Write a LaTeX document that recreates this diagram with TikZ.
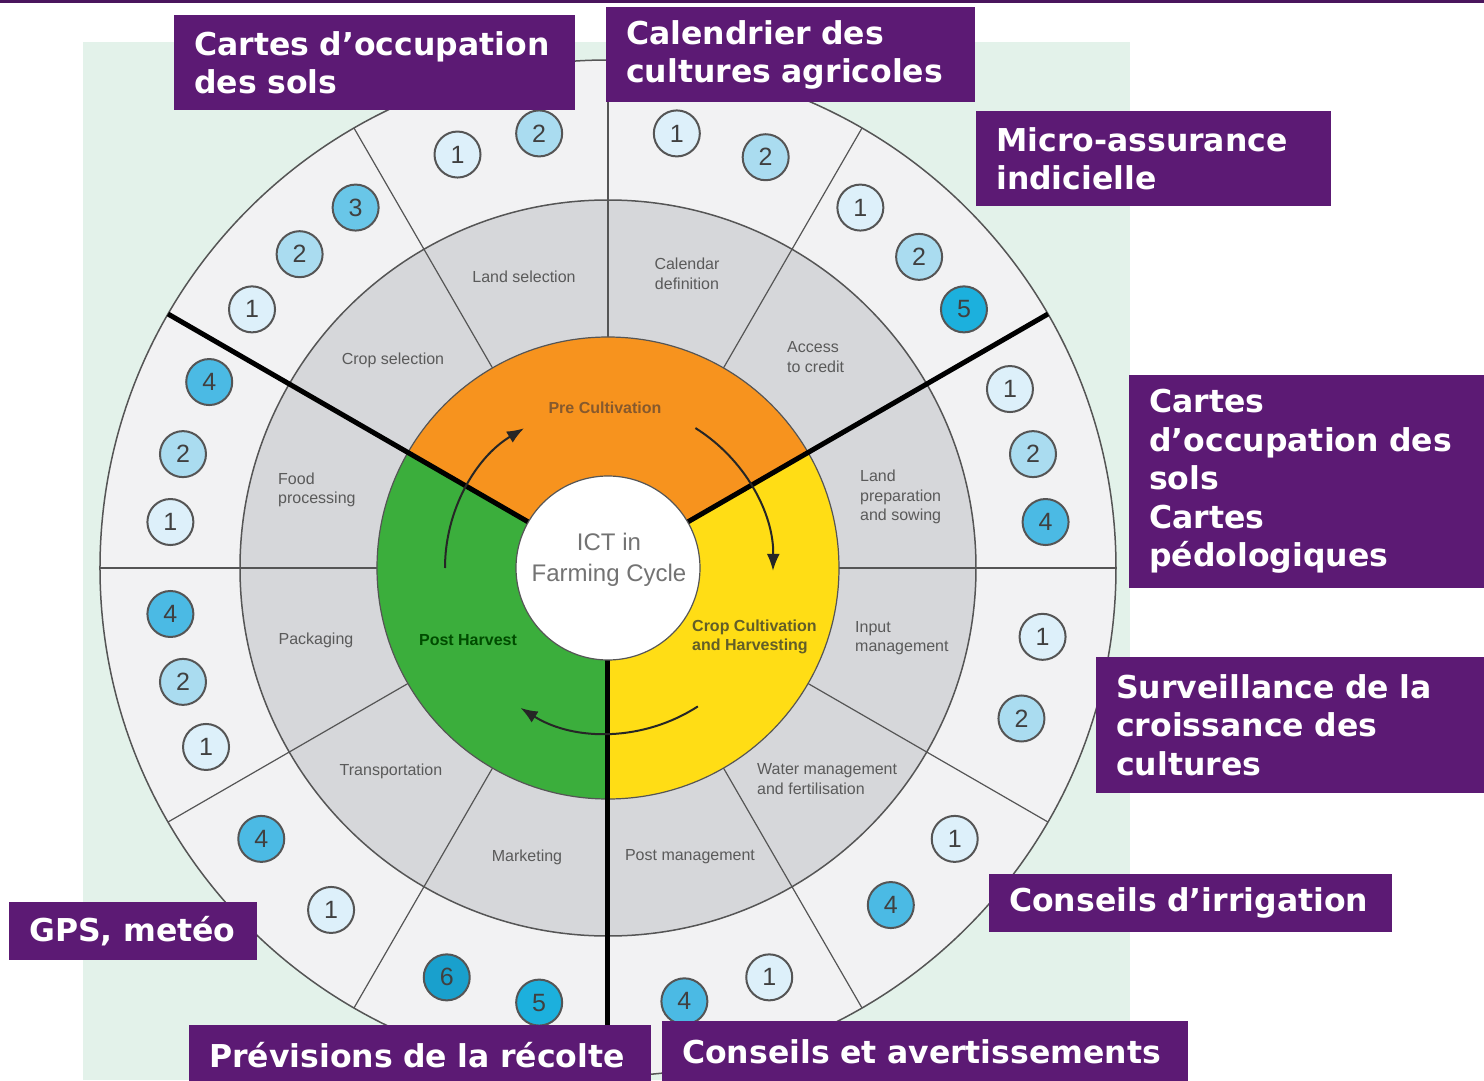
\documentclass[tikz,border=0pt]{standalone}
\usepackage{fontspec}
\setsansfont{Liberation Sans}
\newfontfamily\tagfont{DejaVu Sans}
\usepackage{xcolor}
\usepackage{tikz}
\usetikzlibrary{arrows.meta, positioning}

\definecolor{tagpurple}{RGB}{92,26,116}
\definecolor{bgmint}{RGB}{227,242,234}
\definecolor{outerring}{RGB}{242,242,243}
\definecolor{innerring}{RGB}{214,215,218}
\definecolor{rimline}{RGB}{85,85,85}
\definecolor{preorange}{RGB}{247,147,30}
\definecolor{postgreen}{RGB}{59,174,60}
\definecolor{cropyellow}{RGB}{255,221,21}
\definecolor{wheeltext}{RGB}{90,90,90}
\definecolor{dot1}{RGB}{221,240,250}
\definecolor{dot2}{RGB}{170,220,240}
\definecolor{dot3}{RGB}{105,198,232}
\definecolor{dot4}{RGB}{75,186,228}
\definecolor{dot5}{RGB}{28,176,221}
\definecolor{dot6}{RGB}{25,160,205}

\begin{document}
\begin{tikzpicture}[x=1pt, y=1pt]
        % Styles
        \tikzstyle{tag} = [rectangle, fill=tagpurple, text=white, font=\tagfont\bfseries\fontsize{31.5}{38.5}\selectfont, anchor=north west, align=left, inner xsep=20pt, inner ysep=0pt]
        \tikzstyle{stage} = [font=\sffamily\fontsize{16}{19.5}\selectfont, text=wheeltext, align=center, inner sep=0pt]
        \tikzstyle{phase} = [font=\sffamily\bfseries\fontsize{16}{19.5}\selectfont, align=center, inner sep=0pt]
        \tikzstyle{dot} = [circle, draw=rimline, line width=2pt, minimum size=46pt, inner sep=0pt, font=\sffamily\fontsize{25}{25}\selectfont, text=black!75]
        \tikzstyle{spoke} = [draw=rimline, line width=1.2pt]
        \tikzstyle{bigspoke} = [draw=black, line width=5pt]
        \tikzstyle{cycle} = [draw=black!85, line width=2pt, -{Latex[length=17pt, width=13pt]}]

        \useasboundingbox (-608,-512) rectangle (876,568);
        \fill[white] (-608,-512) rectangle (876,568);
        \fill[bgmint] (-525,-512) rectangle (522,526);
        \fill[tagpurple!80!black] (-608,565) rectangle (876,568);

        % Rings
        \filldraw[fill=outerring, draw=rimline, line width=1.5pt] (0,0) circle[radius=508];
        \filldraw[fill=innerring, draw=rimline, line width=1.5pt] (0,0) circle[radius=368];
        \foreach \a in {0,60,90,120,180,210,240,300,330}
            \draw[spoke] (\a:231) -- (\a:508);
        \fill[preorange] (0,0) -- (30:231) arc[start angle=30, end angle=150, radius=231] -- cycle;
        \fill[postgreen] (0,0) -- (150:231) arc[start angle=150, end angle=270, radius=231] -- cycle;
        \fill[cropyellow] (0,0) -- (270:231) arc[start angle=270, end angle=390, radius=231] -- cycle;
        \draw[rimline, line width=1.2pt] (0,0) circle[radius=231];
        \foreach \a in {30,150,270}
            \draw[bigspoke] (\a:92) -- (\a:508);
        \node[circle, fill=white, draw=rimline, line width=1.2pt, minimum size=184pt, inner sep=0pt] (hub) at (0,0) {};
        \node[font=\sffamily\fontsize{24}{31}\selectfont, text=black!55, align=center] (ict) at (1,8) {ICT in\\Farming Cycle};

        % Phases
        \node[phase, text=brown!70!black] (pre) at (-3,160) {Pre Cultivation};
        \node[phase, text=green!30!black] (post) at (-140,-72) {Post Harvest};
        \node[phase, text=olive!60!black, align=left, anchor=west] (crop) at (84,-69) {Crop Cultivation\\and Harvesting};

        % Stages
        \node[stage] (land) at (-84,291) {Land selection};
        \node[stage] (calendar) at (79,294) {Calendar\\definition};
        \node[stage, align=left, anchor=west] (credit) at (179,211) {Access\\to credit};
        \node[stage] (cropsel) at (-215,208) {Crop selection};
        \node[stage, align=left, anchor=west] (food) at (-330,78) {Food\\processing};
        \node[stage] (packaging) at (-292,-72) {Packaging};
        \node[stage] (transport) at (-217,-203) {Transportation};
        \node[stage] (marketing) at (-81,-289) {Marketing};
        \node[stage] (pest) at (82,-289) {Post management};
        \node[stage, align=left, anchor=west] (water) at (149,-211) {Water management\\and fertilisation};
        \node[stage, align=left, anchor=west] (input) at (247,-70) {Input\\management};
        \node[stage, align=left, anchor=west] (sowing) at (252,71) {Land\\preparation\\and sowing};

        % Cycle arrows
        \draw[cycle] (180:163) arc[start angle=180, end angle=121, radius=163];
        \draw[cycle] (58:165) arc[start angle=58, end angle=-1, radius=165];
        \draw[cycle] (-57:165) arc[start angle=-57, end angle=-122, radius=165];

        % Numbered dots
        \foreach \a/\n [count=\i] in {110/1, 99/2, 81/1, 69/2, 55/1, 45/2, 36/5, 125/3, 134.5/2, 144/1, 155/4, 165/2, 174/1, 24/1, 15/2, 6/4, 186/4, 195/2, 204/1, 351/1, 340/2, 218/4, 231/1, 322/1, 310/4, 248.5/6, 261/5, 280/4, 291.5/1}
            \node[dot, fill=dot\n] (dot\i) at (\a:440) {\n};

        % Labels
        \node[tag, text width=361pt, minimum height=95pt] (landcover) at (-434,553) {Cartes d’occupation\\des sols};
        \node[tag, text width=329pt, minimum height=95pt] (calendrier) at (-2,561) {Calendrier des\\cultures agricoles};
        \node[tag, text width=315pt, minimum height=95pt] (assurance) at (368,457) {Micro-assurance\\indicielle};
        \node[tag, text width=315pt, minimum height=213pt] (pedo) at (521,193) {Cartes\\d’occupation des\\sols\\Cartes\\pédologiques};
        \node[tag, text width=348pt, minimum height=136pt] (surveillance) at (488,-89) {Surveillance de la\\croissance des\\cultures};
        \node[tag, text width=363pt, minimum height=58pt] (irrigation) at (381,-306) {Conseils d’irrigation};
        \node[tag, text width=208pt, minimum height=58pt] (gps) at (-599,-334) {GPS, metéo};
        \node[tag, text width=422pt, minimum height=60pt] (recolte) at (-419,-457) {Prévisions de la récolte};
        \node[tag, text width=486pt, minimum height=62pt] (avertissements) at (54,-453) {Conseils et avertissements};
\end{tikzpicture}
\end{document}
